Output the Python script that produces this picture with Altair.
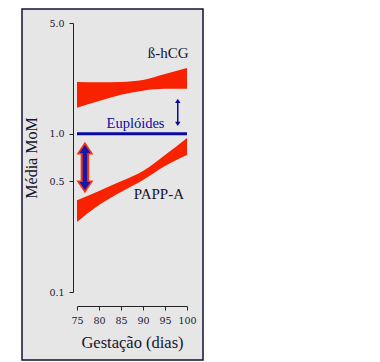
import altair as alt
import pandas as pd

# ---- data ----
days = [75, 80, 85, 90, 95, 100]
hcg_hi = [2.12, 2.11, 2.12, 2.18, 2.38, 2.60]
hcg_lo = [1.46, 1.61, 1.76, 1.87, 1.92, 1.92]
papp_hi = [0.38, 0.435, 0.50, 0.581, 0.733, 0.94]
papp_lo = [0.277, 0.354, 0.428, 0.51, 0.625, 0.733]

euplo_days = [75, 100]
euplo_val = 1.0

arrow_days = [76.8, 97.9]
arrow_lo = [0.42, 1.12]
arrow_hi = [0.89, 1.66]

name_text = ["ß-hCG", "PAPP-A"]
name_day = [95.7, 93.6]
name_val = [3.24, 0.416]

euplo_text = ["Euplóides"]
euplo_text_day = [88.3]
euplo_text_val = [1.15]

y_ticks = [0.1, 0.5, 1.0, 5.0]
x_ticks = [75, 80, 85, 90, 95, 100]

RED = "#f82200"
BLUE = "#0a0aa0"
INK = "#15152e"
SERIF = "Liberation Serif"

bands = pd.DataFrame({
    "day": days * 2,
    "hi": hcg_hi + papp_hi,
    "lo": hcg_lo + papp_lo,
    "series": ["hcg"] * len(days) + ["papp"] * len(days),
})
euplo = pd.DataFrame({"day": [euplo_days[0]], "d1": [euplo_days[1]], "hi": [euplo_val]})
thick = pd.DataFrame({"day": [arrow_days[0]], "lo": [arrow_lo[0]], "hi": [arrow_hi[0]]})
thin = pd.DataFrame({"day": [arrow_days[1]], "lo": [arrow_lo[1]], "hi": [arrow_hi[1]]})
names = pd.DataFrame({"t": name_text, "day": name_day, "hi": name_val})
euplo_lab = pd.DataFrame({"t": euplo_text, "day": euplo_text_day, "hi": euplo_text_val})

xs = alt.Scale(domain=[75, 100], nice=False, zero=False)
ys = alt.Scale(type="log", domain=[0.1, 5], nice=False)

x_axis = alt.Axis(
    values=x_ticks, title="Gestação (dias)", offset=14, grid=False, zindex=1,
    labelOverlap=False, labelFlush=False,
    domainColor="#222", tickColor="#222", tickSize=4,
    labelFont="DejaVu Serif", labelFontSize=9.5, labelColor=INK, labelPadding=5,
    titleFont=SERIF, titleFontSize=16.5, titleFontWeight="normal", titleColor=INK,
    titlePadding=10,
)
y_axis = alt.Axis(
    values=y_ticks, format=".1f", title="Média MoM", offset=4, grid=False, zindex=1,
    labelOverlap=False, labelFlush=False,
    domainColor="#222", tickColor="#222", tickSize=4,
    labelFont="DejaVu Serif", labelFontSize=9.5, labelColor=INK, labelPadding=5,
    titleFont=SERIF, titleFontSize=16, titleFontWeight="normal", titleColor=INK,
    titlePadding=9,
)

X = alt.X("day:Q", scale=xs, axis=x_axis)
def Y(f):
    return alt.Y(f, scale=ys, axis=y_axis)

UP = "M0,0L1,1.5L-1,1.5Z"
DOWN = "M0,0L1,-1.5L-1,-1.5Z"

frame = alt.Chart(alt.Data(values=[{}])).mark_rect(
    fill="#e6e6e6", stroke="#12123a", strokeWidth=1.5
).encode(
    x=alt.value(-55), x2=alt.value(126), y=alt.value(-14), y2=alt.value(337)
)

band = alt.Chart(bands).mark_area(color=RED, interpolate="monotone", opacity=1).encode(
    x=X, y=Y("hi:Q"), y2="lo:Q", detail="series:N",
)

line = alt.Chart(euplo).mark_rule(color=BLUE, strokeWidth=3).encode(
    x=X, x2="d1:Q", y=Y("hi:Q"),
)

def arrow_layers(df, shaft_w, head_size, color, inset, head_off):
    base = alt.Chart(df)
    shaft = base.mark_rule(color=color, strokeWidth=shaft_w, yOffset=inset, y2Offset=-inset).encode(
        x=X, y=Y("hi:Q"), y2="lo:Q",
    )
    top = base.mark_point(shape=UP, size=head_size, filled=True, color=color,
                          opacity=1, yOffset=head_off).encode(x=X, y=Y("hi:Q"))
    bot = base.mark_point(shape=DOWN, size=head_size, filled=True, color=color,
                          opacity=1, yOffset=-head_off).encode(x=X, y=Y("lo:Q"))
    return [shaft, top, bot]

thick_layers = (arrow_layers(thick, 8.5, 289, "#ff3010", 10, 0)
                + arrow_layers(thick, 4.5, 121, "#1818a8", 9, 3))
thin_layers = arrow_layers(thin, 1.5, 30, BLUE, 3, 0)

name_txt = alt.Chart(names).mark_text(
    font=SERIF, fontSize=15, align="center", baseline="middle", color=INK
).encode(x=X, y=Y("hi:Q"), text="t:N")

euplo_txt = alt.Chart(euplo_lab).mark_text(
    font=SERIF, fontSize=14.5, align="center", baseline="middle", color="#0a0aa8"
).encode(x=X, y=Y("hi:Q"), text="t:N")

chart = alt.layer(frame, band, line, *thick_layers, *thin_layers, name_txt, euplo_txt).properties(
    width=110, height=269,
    autosize=alt.AutoSizeParams(type="none"),
    padding={"left": 69, "top": 15, "right": 20, "bottom": 70},
).configure_view(strokeWidth=0)

chart.save("out.html", embed_options={"renderer": "svg", "actions": False})
